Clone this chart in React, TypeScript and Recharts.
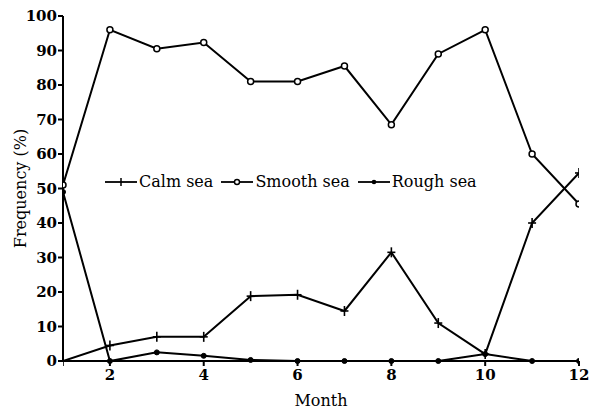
import React from "react";
import { LineChart, Line, XAxis, YAxis } from "recharts";

const months = [1, 2, 3, 4, 5, 6, 7, 8, 9, 10, 11, 12];
const calmSea = [0, 4.5, 7, 7, 18.8, 19.2, 14.5, 31.5, 11, 2, 40, 54.5];
const smoothSea = [51, 96, 90.5, 92.3, 81, 81, 85.5, 68.5, 89, 96, 60, 45.5];
const roughSea = [49, 0, 2.5, 1.5, 0.3, 0, 0, 0, 0, 2, 0, 0];
const xTicks = [2, 4, 6, 8, 10, 12];
const yTicks = [0, 10, 20, 30, 40, 50, 60, 70, 80, 90, 100];

const data = months.map((m, i) => ({
  month: m,
  calm: calmSea[i],
  smooth: smoothSea[i],
  rough: roughSea[i],
}));

const FONT = "DejaVu Serif";

const PlusDot = (props: any) => {
  const { cx, cy } = props;
  if (cx == null || cy == null) return null;
  return (
    <g>
      <line x1={cx - 4} y1={cy} x2={cx + 4} y2={cy} stroke="#000" strokeWidth={1.6} />
      <line x1={cx} y1={cy - 5} x2={cx} y2={cy + 5} stroke="#000" strokeWidth={1.6} />
    </g>
  );
};

const OpenDot = (props: any) => {
  const { cx, cy } = props;
  if (cx == null || cy == null) return null;
  return <circle cx={cx} cy={cy} r={3} fill="#fff" stroke="#000" strokeWidth={1.5} />;
};

const FilledDot = (props: any) => {
  const { cx, cy } = props;
  if (cx == null || cy == null) return null;
  return <circle cx={cx} cy={cy} r={2.5} fill="#000" stroke="#000" strokeWidth={1} />;
};

const legendItems = [
  { name: "Calm sea", type: "plus" },
  { name: "Smooth sea", type: "open" },
  { name: "Rough sea", type: "filled" },
];

const LegendBox = () => (
  <div
    style={{
      position: "absolute",
      top: 172,
      left: 104,
      display: "flex",
      alignItems: "center",
      fontFamily: FONT,
      fontSize: 16,
      color: "#000",
      whiteSpace: "nowrap",
      pointerEvents: "none",
    }}
  >
    {legendItems.map((it) => (
      <div key={it.name} style={{ display: "flex", alignItems: "center", marginRight: 7 }}>
        <svg width={34} height={14} style={{ marginRight: 1 }}>
          <line x1={1} y1={7} x2={33} y2={7} stroke="#000" strokeWidth={1.8} />
          {it.type === "plus" && <line x1={17} y1={3} x2={17} y2={11} stroke="#000" strokeWidth={1.5} />}
          {it.type === "open" && <circle cx={17} cy={7} r={2.5} fill="#fff" stroke="#000" strokeWidth={1.4} />}
          {it.type === "filled" && <circle cx={17} cy={7} r={2.3} fill="#000" />}
        </svg>
        <span>{it.name}</span>
      </div>
    ))}
  </div>
);

const tickStyle = { fill: "#000", fontFamily: FONT, fontSize: 15, fontWeight: 700 };

export default function App() {
  return (
    <div style={{ position: "absolute", left: 0, top: 0, width: 590, height: 416, background: "#fff", fontFamily: FONT }}>
      <LineChart
        width={590}
        height={416}
        data={data}
        margin={{ top: 16, right: 11, left: 0, bottom: 25 }}
        style={{ fontFamily: FONT }}
      >
        <XAxis
          dataKey="month"
          type="number"
          domain={[1, 12]}
          ticks={xTicks}
          allowDataOverflow
          height={30}
          stroke="#000"
          strokeWidth={2}
          tickSize={5}
          tickMargin={3}
          tick={tickStyle}
          label={{ value: "Month", position: "insideBottom", offset: -15, fill: "#000", fontFamily: FONT, fontSize: 16 }}
        />
        <YAxis
          type="number"
          domain={[0, 100]}
          ticks={yTicks}
          width={63}
          stroke="#000"
          strokeWidth={2}
          tickSize={5}
          tickMargin={1}
          interval={0}
          tick={tickStyle}
          label={{ value: "Frequency (%)", angle: -90, position: "insideLeft", offset: 20, style: { textAnchor: "middle" }, fill: "#000", fontFamily: FONT, fontSize: 16 }}
        />
        <Line dataKey="calm" name="Calm sea" stroke="#000" strokeWidth={2} dot={<PlusDot />} isAnimationActive={false} type="linear" />
        <Line dataKey="smooth" name="Smooth sea" stroke="#000" strokeWidth={2} dot={<OpenDot />} isAnimationActive={false} type="linear" />
        <Line dataKey="rough" name="Rough sea" stroke="#000" strokeWidth={2} dot={<FilledDot />} isAnimationActive={false} type="linear" />
      </LineChart>
      <LegendBox />
    </div>
  );
}
